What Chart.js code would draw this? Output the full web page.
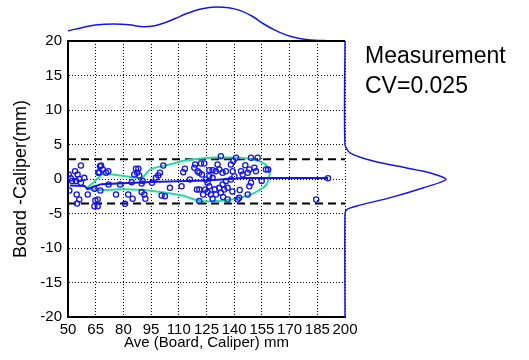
<!DOCTYPE html>
<html>
<head>
<meta charset="utf-8">
<script src="https://cdn.jsdelivr.net/npm/chart.js@4/dist/chart.umd.min.js"></script>
<style>
  html, body { margin: 0; padding: 0; background: #fff; }
  canvas { display: block; }
</style>
</head>
<body>
<canvas id="ba" width="529" height="360"></canvas>
<script>
// ---- data ----
const xTicks = [50, 65, 80, 95, 110, 125, 140, 155, 170, 185, 200];
const yTicks = [-20, -15, -10, -5, 0, 5, 10, 15, 20];

// average of board & caliper (mm) and their difference (mm)
const aveMm = [
  50.4, 50.7, 51.5, 52.2, 53.8, 54.3, 54.7, 54.9, 55.2, 56.1, 56.1, 57, 57, 58.8, 60.7,
  64.3, 64.3, 64.8, 66.1, 66.1, 66.4, 67, 67.3, 67.5, 67.9, 68.8, 70.6, 71.8, 72,
  76, 78.2, 80.9, 82.6, 84.5, 85, 85.9, 86.8, 87.5, 88.1, 88.6, 89.9, 89.9, 90.4, 91.3, 91.9,
  95.5, 97.6, 98.9, 99.8, 101.6, 100.7, 102.5, 105.2,
  111.5, 112.4, 113.3, 116, 118.9, 118.4, 120.2, 121.1, 122, 123.8, 122.5, 124.7, 125.6, 126.5,
  124.3, 121.1, 119.8, 123.2, 127.4, 128.3, 121.1, 126.5, 128.3, 130.1, 126.5, 128.3, 125.5,
  129.5,
  132.8, 131, 131.9, 133.7, 135.5, 138.2, 139.2, 140.1, 138.2, 135.5, 133.7, 131.9, 134.6,
  136.4, 132.8, 130.1, 136.4, 141, 143.7, 144.6, 147.3, 148.2, 149.1, 150.9, 151.8, 152.7,
  149.1, 148.2, 147.3, 142.7, 141.9, 157.2, 154.9, 158.4,
  134, 139, 143, 139.5, 146,
  184.4, 190.8
];
const diffMm = [
  0.65, -1.67, 0.1, -0.3, 1.13, -0.3, -2.25, -3.55, 0.65, 0.0, -2.97, 1.96, -0.55, 0.17, -2.25,
  -1.42, -3.94, -3.1, -2.97, -3.94, 0.9, 0.99, 1.86, -1.67, 1.96, 1.38, 0.9, 1.13, -0.8,
  -2.25, -0.8, -3.6, -2.25, -0.46, -2.87, 0.65, 1.48, 0.9, 1.48, 0.5, -0.65, -1.9, -0.3, -2.25, -2.87,
  -0.55, 0.17, 0.5, 0.9, 1.96, -2.4, -2.49, -1.28,
  -1.04, 0.99, 1.48, -0.07, 2.1, 1.62, 1.13, 0.9, 2.25, 2.25, 0.65, -0.07, -0.55, -1.04,
  -1.52, -1.52, -1.52, -2.25, -2.25, -2.87, -3.2, 1.28, 1.28, 1.13, 0.41, 0.17, -1.9,
  -1.5,
  3.3, 2.1, 1.38, 0.9, 1.13, 2.1, 1.13, 0.41, -0.07, -0.3, -0.8, -1.28, -1.52,
  -1.28, -2.0, -2.25, -2.97, 3.07, 1.13, 0.65, 0.9, 1.38, 3.07, 1.62, 1.13, 3.07,
  -0.55, -1.04, -2.25, -2.72, -2.97, 1.38, -0.3, 1.38,
  -2.6, -1.8, -1.6, 2.6, 2.0,
  -2.97, 0.1
];

// smoothed trend of the difference
const trendX = [51, 59, 60.5, 68, 95, 125, 145, 190.8];
const trendY = [-0.95, -1.0, -1.45, -0.75, -0.45, -0.2, 0.15, 0.15];

// limits of agreement
const loaUpper = 2.85;
const loaLower = -3.55;

// contour round the main cloud
const contourX = [60, 65, 69, 78, 90, 94.5, 105, 112, 121, 130, 139, 148.6, 155, 158, 159.4, 158.5,
  157.6, 153, 148.5, 139.5, 130.5, 121.5, 112, 94.4, 80, 67, 60];
const contourY = [-1.4, -0.2, 0.7, 0.5, 0.2, 1.4, 2.1, 2.6, 2.95, 3.1, 3.1, 2.9, 2.4, 1.8, 1.0, 0,
  -0.8, -1.7, -2.3, -2.95, -3.2, -3.2, -2.4, -1.7, -1.5, -1.6, -1.4];

// marginal density of the averages (top), peak = 1
const topDensX = [50, 58, 65, 75, 83, 91, 97, 102, 108, 114, 122, 130, 137, 143, 150, 156, 162, 168, 174, 180, 190, 200];
const topDens  = [0.30, 0.40, 0.47, 0.50, 0.48, 0.42, 0.45, 0.53, 0.66, 0.80, 0.94, 1.0, 0.98, 0.90, 0.72, 0.50, 0.32, 0.18, 0.09, 0.04, 0.01, 0.0];

// marginal density of the differences (right), peak = 1
const rightDensY = [-20, -5, -4.4, -3.9, -2.7, -1.3, -0.07, 0.9, 1.6, 2.6, 3.8, 5, 20];
const rightDens  = [0, 0, 0.02, 0.12, 0.45, 0.77, 1.0, 0.84, 0.61, 0.28, 0.05, 0, 0];

const noteLines = ['Measurement', 'CV=0.025'];

// ---- helpers ----
const BLUE = '#1414f0';
const TEAL = '#22dc9c';
const FONT = 'Arial, "Liberation Sans", sans-serif';

const pairs = (xs, ys) => xs.map((x, i) => ({ x, y: ys[i] }));

const framePlugin = {
  id: 'frame',
  afterDatasetsDraw(chart) {
    const { ctx, chartArea: a } = chart;
    ctx.save();
    ctx.strokeStyle = '#000';
    ctx.lineWidth = 2;
    ctx.beginPath();
    ctx.moveTo(a.left - 1, a.top);
    ctx.lineTo(a.right, a.top);
    ctx.stroke();

    ctx.fillStyle = '#000';
    ctx.font = '23px ' + FONT;
    ctx.textBaseline = 'alphabetic';
    noteLines.forEach((t, i) => ctx.fillText(t, a.right + 20, 63 + i * 30));
    ctx.restore();
  }
};

new Chart(document.getElementById('ba'), {
  type: 'scatter',
  data: {
    datasets: [
      {
        data: pairs(aveMm, diffMm),
        pointRadius: 2.6,
        pointBorderWidth: 1.3,
        pointBorderColor: BLUE,
        pointBackgroundColor: 'rgba(0,0,0,0)',
        showLine: false
      },
      {
        data: pairs(trendX, trendY),
        showLine: true,
        borderColor: BLUE,
        borderWidth: 2,
        pointRadius: 0
      },
      {
        data: pairs(contourX, contourY),
        showLine: true,
        borderColor: TEAL,
        borderWidth: 2,
        tension: 0.3,
        pointRadius: 0
      },
      {
        data: [{ x: 50, y: loaUpper }, { x: 200, y: loaUpper }],
        showLine: true,
        borderColor: '#000',
        borderWidth: 2,
        borderDash: [8, 5],
        pointRadius: 0
      },
      {
        data: [{ x: 50, y: loaLower }, { x: 200, y: loaLower }],
        showLine: true,
        borderColor: '#000',
        borderWidth: 2,
        borderDash: [8, 5],
        pointRadius: 0
      },
      {
        data: pairs(topDensX, topDens),
        xAxisID: 'x',
        yAxisID: 'yTop',
        showLine: true,
        borderColor: BLUE,
        borderWidth: 1.5,
        cubicInterpolationMode: 'monotone',
        pointRadius: 0,
        clip: false
      },
      {
        data: pairs(rightDens, rightDensY),
        xAxisID: 'xRight',
        yAxisID: 'y',
        showLine: true,
        borderColor: BLUE,
        borderWidth: 1.5,
        tension: 0.25,
        pointRadius: 0,
        clip: false
      }
    ]
  },
  options: {
    responsive: false,
    animation: false,
    layout: { padding: { top: 41, right: 184, left: 0, bottom: 0 } },
    plugins: { legend: { display: false }, tooltip: { enabled: false } },
    scales: {
      x: {
        type: 'linear',
        min: 50,
        max: 200,
        afterBuildTicks: s => { s.ticks = xTicks.map(v => ({ value: v })); },
        afterFit: s => { s.height = 43; },
        ticks: { color: '#000', font: { family: FONT, size: 15 }, padding: 4, maxRotation: 0, autoSkip: false },
        grid: { color: '#000', lineWidth: 1, drawTicks: false },
        border: { color: '#000', width: 2, dash: [1, 2] },
        title: { display: true, text: 'Ave (Board, Caliper) mm', color: '#000', font: { family: FONT, size: 15 }, padding: { top: 0, bottom: 8 } }
      },
      y: {
        type: 'linear',
        min: -20,
        max: 20,
        afterBuildTicks: s => { s.ticks = yTicks.map(v => ({ value: v })); },
        afterFit: s => { s.width = 68; },
        ticks: { color: '#000', font: { family: FONT, size: 15 }, padding: 6, autoSkip: false },
        grid: { color: '#000', lineWidth: 1, drawTicks: false },
        border: { color: '#000', width: 2, dash: [1, 2] },
        title: { display: true, text: 'Board -Caliper(mm)', color: '#000', font: { family: FONT, size: 18 }, padding: { top: 10, bottom: 0 } }
      },
      // hidden scales that place the marginal curves outside the plot box
      yTop: { type: 'linear', display: false, min: -8.118, max: 0 },
      xRight: { type: 'linear', display: false, min: -2.743, max: 0 }
    }
  },
  plugins: [framePlugin]
});
</script>
</body>
</html>
